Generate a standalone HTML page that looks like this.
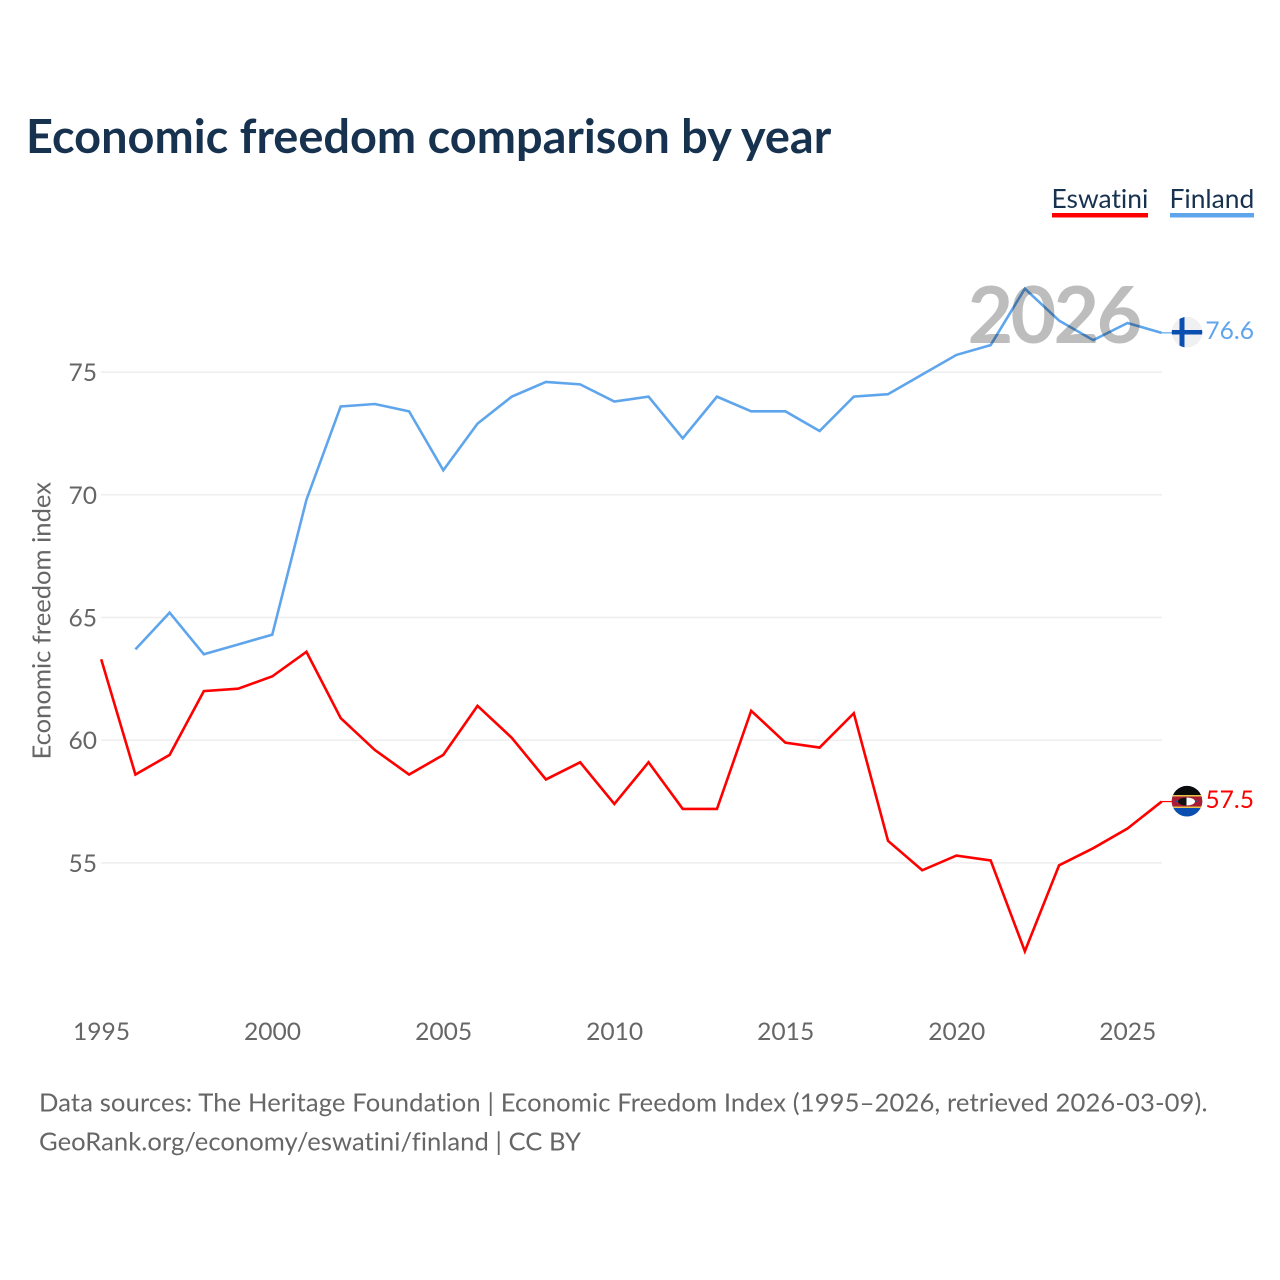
<!DOCTYPE html>
<html><head><meta charset="utf-8"><title>Economic freedom comparison by year</title>
<style>
html,body{margin:0;padding:0;background:#fff;width:1280px;height:1280px;overflow:hidden}
svg{display:block}
text{font-family:"Lato","Carlito","Liberation Sans",sans-serif;font-variant-ligatures:none;font-feature-settings:"liga" 0,"clig" 0}
</style></head>
<body>
<svg id="chart" width="1280" height="1280" viewBox="0 0 1280 1280" xmlns="http://www.w3.org/2000/svg">
<defs>
<clipPath id="flag-clip-fi"><circle cx="1187" cy="332.200" r="15.300"/></clipPath>
<clipPath id="flag-clip-sz"><circle cx="1187" cy="801.200" r="15.300"/></clipPath>
</defs>
<text x="26" y="153" font-size="46.900" font-weight="700" fill="#17324f">Economic freedom comparison by year</text>
<g id="grid"></g>
<g id="yticks"></g>
<g id="xticks"></g>
<text transform="translate(50.500,759.500) rotate(-90)" font-size="25.600" fill="#666">Economic freedom index</text>
<g id="lines"></g>
<text x="967.500" y="343" font-size="79" font-weight="700" letter-spacing="-2.800" fill="#000" fill-opacity="0.26">2026</text>
<g>
<text x="1051.500" y="208" font-size="26.400" fill="#17324f">Eswatini</text>
<rect x="1052" y="213" width="96" height="4.500" fill="#ff0000"/>
</g>
<g>
<text x="1169.500" y="208" font-size="26.400" fill="#17324f">Finland</text>
<rect x="1170" y="213" width="84" height="4.500" fill="#5fa5ec"/>
</g>
<g clip-path="url(#flag-clip-fi)">
<rect x="1170" y="316" width="34" height="33" fill="#f0f0f2"/>
<rect x="1179.500" y="316" width="5" height="33" fill="#0a4fb0"/>
<rect x="1170" y="330" width="34" height="4.500" fill="#0a4fb0"/>
</g>
<g clip-path="url(#flag-clip-sz)">
<rect x="1170" y="785" width="34" height="33" fill="#0a4fb0"/>
<rect x="1170" y="785" width="34" height="10" fill="#0b0b0b"/>
<rect x="1170" y="795" width="34" height="13" fill="#e8c24a"/>
<rect x="1170" y="796.500" width="34" height="10" fill="#a81c34"/>
<rect x="1175" y="800.500" width="23" height="1.500" fill="#2a4a9a"/>
<ellipse cx="1186.500" cy="801.500" rx="8.500" ry="4" fill="#111"/>
<path d="M1186.500 797.500 a8.500 4 0 0 1 0 8z" fill="#fff"/>
</g>
<text x="1254" y="339" text-anchor="end" font-size="24.600" fill="#5fa5ec">76.6</text>
<text x="1254" y="808" text-anchor="end" font-size="24.600" fill="#ff0000">57.5</text>
<text x="39" y="1111.500" font-size="25.600" letter-spacing="0.120" fill="#666">Data sources: The Heritage Foundation | Economic Freedom Index (1995–2026, retrieved 2026-03-09).</text>
<text x="39" y="1150.500" font-size="25.600" letter-spacing="0.040" fill="#666">GeoRank.org/economy/eswatini/finland | CC BY</text>
</svg>
<script>
const yTickValues = [55, 60, 65, 70, 75];
const xTickYears = [1995, 2000, 2005, 2010, 2015, 2020, 2025];
const eswatiniStartYear = 1995;
const eswatiniValues = [63.3, 58.6, 59.4, 62.0, 62.1, 62.6, 63.6, 60.9, 59.6, 58.6, 59.4, 61.4, 60.1, 58.4, 59.1, 57.4, 59.1, 57.2, 57.2, 61.2, 59.9, 59.7, 61.1, 55.9, 54.7, 55.3, 55.1, 51.4, 54.9, 55.6, 56.4, 57.5];
const finlandStartYear = 1996;
const finlandValues = [63.7, 65.2, 63.5, 63.9, 64.3, 69.8, 73.6, 73.7, 73.4, 71.0, 72.9, 74.0, 74.6, 74.5, 73.8, 74.0, 72.3, 74.0, 73.4, 73.4, 72.6, 74.0, 74.1, 74.9, 75.7, 76.1, 78.4, 77.1, 76.3, 77.0, 76.6];

const NS = 'http://www.w3.org/2000/svg';
const xScale = function (year) { return 101.2 + (year - 1995) * (1161.7 - 101.2) / 31; };
const yScale = function (v) { return 862.9 - (v - 55) * (862.9 - 372.1) / 20; };
const gridG = document.getElementById('grid');
const yG = document.getElementById('yticks');
const xG = document.getElementById('xticks');
const linesG = document.getElementById('lines');

yTickValues.forEach(function (v) {
  const line = document.createElementNS(NS, 'line');
  
  
  line.setAttribute('x1', 101);
  line.setAttribute('x2', 1162);
  line.setAttribute('y1', yScale(v));
  line.setAttribute('y2', yScale(v));
  line.setAttribute('stroke', '#eeeeee');
  line.setAttribute('stroke-width', 1.5);
  gridG.appendChild(line);
  const t = document.createElementNS(NS, 'text');
  
  
  t.setAttribute('x', 97);
  t.setAttribute('y', yScale(v) + 9);
  t.setAttribute('text-anchor', 'end');
  t.setAttribute('font-size', 24.6);
  t.setAttribute('fill', '#666');
  t.textContent = v;
  yG.appendChild(t);
});

xTickYears.forEach(function (year) {
  const t = document.createElementNS(NS, 'text');
  
  
  t.setAttribute('x', xScale(year) + 0.3);
  t.setAttribute('y', 1040);
  t.setAttribute('text-anchor', 'middle');
  t.setAttribute('font-size', 24.6);
  t.setAttribute('fill', '#666');
  t.textContent = year;
  xG.appendChild(t);
});

function pointsFor(values, startYear) {
  return values.map(function (v, i) { return xScale(startYear + i).toFixed(2) + ',' + yScale(v).toFixed(2); }).join(' ');
}

const finlandLine = document.createElementNS(NS, 'polyline');


finlandLine.setAttribute('points', pointsFor(finlandValues, finlandStartYear));
finlandLine.setAttribute('fill', 'none');
finlandLine.setAttribute('stroke', '#5fa5ec');
finlandLine.setAttribute('stroke-width', 2.6);
linesG.appendChild(finlandLine);

const eswatiniLine = document.createElementNS(NS, 'polyline');


eswatiniLine.setAttribute('points', pointsFor(eswatiniValues, eswatiniStartYear));
eswatiniLine.setAttribute('fill', 'none');
eswatiniLine.setAttribute('stroke', '#ff0000');
eswatiniLine.setAttribute('stroke-width', 2.6);
linesG.appendChild(eswatiniLine);

const finlandLead = document.createElementNS(NS, 'line');


finlandLead.setAttribute('x1', xScale(2026));
finlandLead.setAttribute('y1', yScale(finlandValues[finlandValues.length - 1]));
finlandLead.setAttribute('x2', 1172);
finlandLead.setAttribute('y2', yScale(finlandValues[finlandValues.length - 1]));
finlandLead.setAttribute('stroke', '#5fa5ec');
finlandLead.setAttribute('stroke-width', 1.2);
linesG.appendChild(finlandLead);

const eswatiniLead = document.createElementNS(NS, 'line');


eswatiniLead.setAttribute('x1', xScale(2026));
eswatiniLead.setAttribute('y1', yScale(eswatiniValues[eswatiniValues.length - 1]));
eswatiniLead.setAttribute('x2', 1172);
eswatiniLead.setAttribute('y2', yScale(eswatiniValues[eswatiniValues.length - 1]));
eswatiniLead.setAttribute('stroke', '#ff0000');
eswatiniLead.setAttribute('stroke-width', 1.2);
linesG.appendChild(eswatiniLead);
</script>
</body></html>
